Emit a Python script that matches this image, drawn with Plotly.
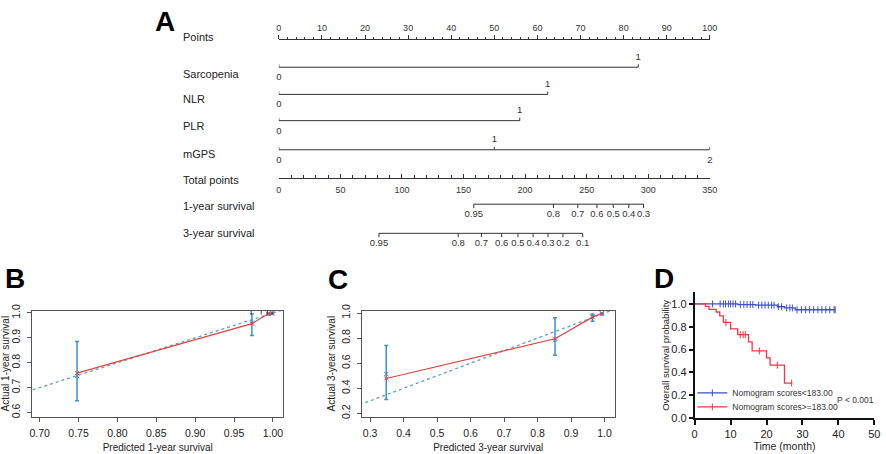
import plotly.graph_objects as go

# ---------------------------------------------------------
# DATOS
# ---------------------------------------------------------
# A: nomograma (puntos por nivel de cada variable)
puntos_ticks = list(range(0, 101, 10))
sarcopenia_niveles = ["0", "1"]
sarcopenia_pts = [0, 83.4]
nlr_niveles = ["0", "1"]
nlr_pts = [0, 62.4]
plr_niveles = ["0", "1"]
plr_pts = [0, 55.9]
mgps_niveles = ["0", "1", "2"]
mgps_pts = [0, 50.0, 100]
total_ticks = list(range(0, 351, 50))
surv1_etiquetas = ["0.95", "0.8", "0.7", "0.6", "0.5", "0.4", "0.3"]
surv1_total = [158.3, 223.0, 242.8, 258.3, 271.6, 284.2, 296.2]
surv3_etiquetas = ["0.95", "0.8", "0.7", "0.6", "0.5", "0.4", "0.3", "0.2", "0.1"]
surv3_total = [81.3, 145.7, 164.5, 181.0, 194.2, 206.5, 218.6, 230.7, 246.8]

# B: calibración a 1 año
cal1_pred = [0.748, 0.973, 0.994, 0.999]
cal1_obs = [0.758, 0.957, 0.997, 0.998]
cal1_km = [0.746, 0.962, 0.997, 0.998]
cal1_lo = [0.647, 0.909, 0.992, 0.995]
cal1_hi = [0.885, 0.997, 1.000, 1.000]
cal1_rug = [0.972, 0.985, 0.993, 0.999]

# C: calibración a 3 años
cal3_pred = [0.348, 0.852, 0.964, 0.992]
cal3_obs = [0.478, 0.795, 0.967, 0.998]
cal3_km = [0.514, 0.782, 0.972, 0.998]
cal3_lo = [0.310, 0.663, 0.935, 0.985]
cal3_hi = [0.740, 0.962, 0.992, 1.000]

# D: Kaplan-Meier por grupo de puntaje
bajo_t_evento = [12, 17, 23, 25, 28]
bajo_s_evento = [0.994, 0.989, 0.975, 0.965, 0.949]
bajo_t_censura = [5, 7.1, 8.0, 8.6, 9.4, 10.0, 10.7, 11.4, 12.7, 13.7, 14.6, 15.5, 16.2,
                  17.8, 18.7, 19.6, 20.5, 21.4, 22.1, 23.3, 24.2, 25.6, 26.5, 27.2,
                  28.5, 29.7, 30.9, 32.0, 33.1, 34.3, 35.4, 36.5, 37.6, 38.8, 39.1]
alto_t_evento = [3, 4, 6, 7, 8, 10, 12, 15, 16, 20, 21, 25]
alto_s_evento = [0.978, 0.952, 0.929, 0.895, 0.839, 0.782, 0.731, 0.668, 0.589, 0.527, 0.464, 0.307]
alto_t_censura = [8.7, 12.7, 13.5, 14.1, 18.0, 23.0, 27.0]

# ---------------------------------------------------------
# ESTILO
# ---------------------------------------------------------
W, H = 886, 454
FUENTE = "Liberation Sans, Arial, sans-serif"
GRIS = "#333333"
AZUL_CAL = "#3d8fd6"
ROJO_CAL = "#e0453f"
AZUL_KM = "#3c4fc4"
ROJO_KM = "#f2373d"


def px_x(p):
    return p / W


def px_y(p):
    return 1 - p / H


fig = go.Figure()

# =============================================================================
# A: NOMOGRAMA
# =============================================================================
filas_y = {"Points": 33, "Sarcopenia": 62, "NLR": 90, "PLR": 117, "mGPS": 147,
           "Total points": 176, "1-year survival": 203, "3-year survival": 233}
etiqueta_y = {"Points": 31, "Sarcopenia": 69, "NLR": 95, "PLR": 123, "mGPS": 151,
              "Total points": 178, "1-year survival": 205, "3-year survival": 233}


def fila_nomograma(xs, etiquetas, y, eje, lados, tick):
    fig.add_trace(go.Scatter(x=[min(xs), max(xs)], y=[y, y], mode="lines",
                             line=dict(color=GRIS, width=1), xaxis=eje, yaxis="y",
                             hoverinfo="skip", showlegend=False))
    tx, ty = [], []
    for v in xs:
        tx += [v, v, None]
        ty += [y, y + tick, None]
    fig.add_trace(go.Scatter(x=tx, y=ty, mode="lines", line=dict(color=GRIS, width=1),
                             xaxis=eje, yaxis="y", hoverinfo="skip", showlegend=False))
    for lado, dy in (("arriba", -10), ("abajo", 11)):
        sel = [i for i, l in enumerate(lados) if l == lado]
        if not sel:
            continue
        fig.add_trace(go.Scatter(x=[xs[i] for i in sel], y=[y + dy] * len(sel), mode="text",
                                 text=[etiquetas[i] for i in sel],
                                 textfont=dict(family=FUENTE, size=9.5, color=GRIS),
                                 xaxis=eje, yaxis="y", cliponaxis=False,
                                 hoverinfo="skip", showlegend=False))


fila_nomograma(sarcopenia_pts, sarcopenia_niveles, filas_y["Sarcopenia"], "x", ["abajo", "arriba"], -3)
fila_nomograma(nlr_pts, nlr_niveles, filas_y["NLR"], "x", ["abajo", "arriba"], -3)
fila_nomograma(plr_pts, plr_niveles, filas_y["PLR"], "x", ["abajo", "arriba"], -3)
fila_nomograma(mgps_pts, mgps_niveles, filas_y["mGPS"], "x", ["abajo", "arriba", "abajo"], -3)
fila_nomograma(surv1_total, surv1_etiquetas, filas_y["1-year survival"], "x2", ["abajo"] * len(surv1_total), 4)
fila_nomograma(surv3_total, surv3_etiquetas, filas_y["3-year survival"], "x2", ["abajo"] * len(surv3_total), 4)

for nombre, yy in etiqueta_y.items():
    fig.add_annotation(x=px_x(180), y=px_y(yy), xref="paper", yref="paper", text=nombre,
                       showarrow=False, xanchor="left", yanchor="middle",
                       font=dict(family=FUENTE, size=11, color="#222"))

# =============================================================================
# B y C: CALIBRACIÓN
# =============================================================================
def calibracion(pred, obs, km, lo, hi, ex, ey):
    fig.add_trace(go.Scatter(x=[0, 1.1], y=[0, 1.1], mode="lines",
                             line=dict(color="#5a9fd4", width=1.3, dash="dot"),
                             xaxis=ex, yaxis=ey, showlegend=False, hoverinfo="skip"))
    fig.add_trace(go.Scatter(x=pred, y=obs, mode="markers",
                             marker=dict(size=1, color="rgba(0,0,0,0)"),
                             error_y=dict(type="data", symmetric=False,
                                          array=[h - o for h, o in zip(hi, obs)],
                                          arrayminus=[o - l for o, l in zip(obs, lo)],
                                          color=AZUL_CAL, thickness=1.5, width=2),
                             xaxis=ex, yaxis=ey, showlegend=False, hoverinfo="skip"))
    fig.add_trace(go.Scatter(x=pred, y=km, mode="markers",
                             marker=dict(symbol="x-thin-open", size=4, color=AZUL_CAL,
                                         line=dict(width=1, color=AZUL_CAL)),
                             xaxis=ex, yaxis=ey, showlegend=False))
    fig.add_trace(go.Scatter(x=pred, y=obs, mode="lines+markers",
                             line=dict(color=ROJO_CAL, width=1.2),
                             marker=dict(symbol="x-thin-open", size=4, color=ROJO_CAL,
                                         line=dict(width=1, color=ROJO_CAL)),
                             xaxis=ex, yaxis=ey, showlegend=False))


calibracion(cal1_pred, cal1_obs, cal1_km, cal1_lo, cal1_hi, "x3", "y3")
fig.add_trace(go.Scatter(x=cal1_rug, y=[1.005] * len(cal1_rug), mode="markers",
                         marker=dict(symbol="line-ns-open", size=4, color="#444",
                                     line=dict(width=1, color="#444")),
                         xaxis="x3", yaxis="y3", showlegend=False, hoverinfo="skip"))
calibracion(cal3_pred, cal3_obs, cal3_km, cal3_lo, cal3_hi, "x4", "y4")

# =============================================================================
# D: KAPLAN-MEIER
# =============================================================================
def s_en(t, t_ev, s_ev):
    s = 1.0
    for te, se in zip(t_ev, s_ev):
        if te <= t:
            s = se
    return s


def curva_km(t_ev, s_ev, t_cens, color, nombre, leyenda):
    xs, ys = [0], [1.0]
    for te, se in zip(t_ev, s_ev):
        xs.append(te)
        ys.append(se)
    t_fin = max(t_ev + t_cens)
    xs.append(t_fin)
    ys.append(ys[-1])
    fig.add_trace(go.Scatter(x=xs, y=ys, mode="lines", line=dict(color=color, width=1.3, shape="hv"),
                             xaxis="x5", yaxis="y5", showlegend=False))
    fig.add_trace(go.Scatter(x=t_cens, y=[s_en(t, t_ev, s_ev) for t in t_cens], mode="markers",
                             marker=dict(symbol="line-ns-open", size=5, color=color,
                                         line=dict(width=1, color=color)),
                             xaxis="x5", yaxis="y5", showlegend=False))
    # entrada de leyenda (línea + marca de censura)
    fig.add_trace(go.Scatter(x=[None], y=[None], mode="lines+markers", name=nombre,
                             line=dict(color=color, width=1.3),
                             marker=dict(symbol="line-ns-open", size=5, color=color,
                                         line=dict(width=1, color=color)),
                             xaxis="x5", yaxis="y5", legend=leyenda))


curva_km(bajo_t_evento, bajo_s_evento, bajo_t_censura, AZUL_KM, "Nomogram scores<183.00", "legend")
curva_km(alto_t_evento, alto_s_evento, alto_t_censura, ROJO_KM, "Nomogram scores>=183.00", "legend2")

# ---------------------------------------------------------
# EJES Y DISEÑO
# ---------------------------------------------------------
tfont_nom = dict(family=FUENTE, size=9, color=GRIS)
dom_nom = [px_x(279.3), px_x(715.7)]

eje_cal = dict(showline=True, mirror=True, linecolor="#555", linewidth=1, ticks="outside",
               ticklen=4, tickcolor="#555", showgrid=False, zeroline=False, ticklabelstandoff=3,
               tickfont=dict(family=FUENTE, size=10.5, color="#222"))
titulo_cal = dict(family=FUENTE, size=10, color="#222")

eje_km = dict(showline=True, linecolor="#111", linewidth=1.5, ticks="outside", ticklen=5,
              tickwidth=1.5, tickcolor="#111", showgrid=False, zeroline=False,
              tickfont=dict(family=FUENTE, size=11, color="#222"))

leyenda_base = dict(xanchor="left", yanchor="middle", bgcolor="rgba(0,0,0,0)",
                    font=dict(family=FUENTE, size=8.5, color="#333"), itemwidth=30)

fig.update_layout(
    width=W, height=H,
    margin=dict(l=0, r=0, t=0, b=0),
    paper_bgcolor="white", plot_bgcolor="rgba(0,0,0,0)",
    font=dict(family=FUENTE),
    # nomograma
    xaxis=dict(domain=dom_nom, range=[0, 100], anchor="free", position=px_y(33), side="top",
               showline=True, linecolor=GRIS, linewidth=1, ticks="outside", ticklen=4,
               tickcolor=GRIS, tickvals=puntos_ticks, tickfont=tfont_nom, showgrid=False,
               zeroline=False, minor=dict(dtick=2, ticks="outside", ticklen=2, tickcolor=GRIS)),
    xaxis2=dict(domain=dom_nom, range=[0, 350], anchor="free", position=px_y(176), side="bottom",
                overlaying="x", showline=True, linecolor=GRIS, linewidth=1, ticks="inside",
                ticklen=4, tickcolor=GRIS, tickvals=total_ticks, tickfont=tfont_nom,
                ticklabelstandoff=3, showgrid=False, zeroline=False,
                minor=dict(dtick=10, ticks="inside", ticklen=3, tickcolor=GRIS)),
    yaxis=dict(domain=[0, 1], range=[H, 0], visible=False, anchor="x"),
    # B
    xaxis3=dict(eje_cal, domain=[px_x(29.3), px_x(284)], range=[0.690, 1.0136], anchor="y3",
                tickvals=[0.70, 0.75, 0.80, 0.85, 0.90, 0.95, 1.00], tickformat=".2f",
                title=dict(text="Predicted 1-year survival", font=titulo_cal, standoff=5)),
    yaxis3=dict(eje_cal, domain=[px_y(421.7), px_y(312.7)], range=[0.583, 1.009], anchor="x3",
                tickvals=[0.6, 0.7, 0.8, 0.9, 1.0], tickformat=".1f", tickangle=-90,
                title=dict(text="Actual 1-year survival", font=titulo_cal, standoff=2)),
    # C
    xaxis4=dict(eje_cal, domain=[px_x(363.3), px_x(619.3)], range=[0.275, 1.030], anchor="y4",
                tickvals=[0.3, 0.4, 0.5, 0.6, 0.7, 0.8, 0.9, 1.0], tickformat=".1f",
                title=dict(text="Predicted 3-year survival", font=titulo_cal, standoff=5)),
    yaxis4=dict(eje_cal, domain=[px_y(421.7), px_y(312.7)], range=[0.174, 1.018], anchor="x4",
                tickvals=[0.2, 0.4, 0.6, 0.8, 1.0], tickformat=".1f", tickangle=-90,
                title=dict(text="Actual 3-year survival", font=titulo_cal, standoff=2)),
    # D
    xaxis5=dict(eje_km, domain=[px_x(700.3), px_x(882.3)], range=[0, 50], anchor="y5",
                tickvals=[0, 10, 20, 30, 40, 50],
                title=dict(text="Time (month)", font=dict(family=FUENTE, size=10.5, color="#222"), standoff=2)),
    yaxis5=dict(eje_km, domain=[px_y(423.3), px_y(293.9)], range=[0, 1.1], anchor="x5",
                tickvals=[0, 0.2, 0.4, 0.6, 0.8, 1.0], tickformat=".1f", ticklen=4,
                title=dict(text="Overall survival probability", font=dict(family=FUENTE, size=9.5, color="#222"), standoff=0)),
    legend=dict(leyenda_base, x=px_x(698), y=px_y(397.3)),
    legend2=dict(leyenda_base, x=px_x(698), y=px_y(411.7)),
)

# letras de panel y valor p
for letra, lx, ly in (("A", 164, 15), ("B", 12.5, 280), ("C", 339, 280.5), ("D", 669, 280)):
    fig.add_annotation(x=px_x(lx), y=px_y(ly), xref="paper", yref="paper", text=f"<b>{letra}</b>",
                       showarrow=False, xanchor="center", yanchor="middle",
                       font=dict(family=FUENTE, size=28, color="black"))
fig.add_annotation(x=px_x(863), y=px_y(405), xref="paper", yref="paper", text="P < 0.001",
                   showarrow=False, xanchor="center", yanchor="middle",
                   font=dict(family=FUENTE, size=8.5, color="#333"))

# sin margen ni barras de desplazamiento, para que la figura ocupe la ventana exacta
ajuste_pagina = ("document.documentElement.style.overflow='hidden';"
                 "document.body.style.margin='0';document.body.style.overflow='hidden';")
fig.write_html("out.html", post_script=ajuste_pagina, config={"displayModeBar": False})
